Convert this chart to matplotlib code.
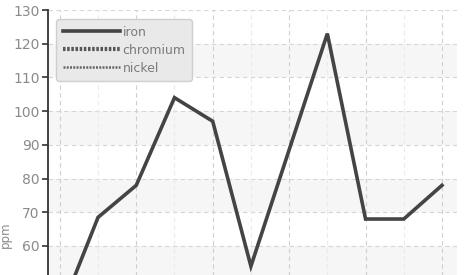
import matplotlib
matplotlib.use("Agg")
import matplotlib.pyplot as plt

# iron readings (ppm) per sample; the other series sit below the visible range
samples = list(range(11))
iron = [40, 68.5, 78, 104, 97, 54, 88.5, 123, 68, 68, 78]
chromium = []
nickel = []
yticks = [40, 50, 60, 70, 80, 90, 100, 110, 120, 130]

plt.rcParams['font.family'] = ['Liberation Sans Narrow', 'DejaVu Sans']

fig = plt.figure(figsize=(4.7, 2.75), dpi=100)
ax = fig.add_axes([0.1021, -0.1397, 0.870, 1.1033])

ax.set_xlim(-0.31, 10.39)
ax.set_ylim(40, 130)

# alternating background bands
for lo in range(50, 130, 20):
    ax.axhspan(lo, lo + 10, color='#f6f6f6', zorder=0, lw=0)

# grid lines
for y in yticks:
    ax.axhline(y, color='#d6d6d6', lw=0.8, ls=(0, (4, 3)), zorder=1)
for i in samples:
    c = '#cfcfcf' if i % 2 == 0 else '#ebebeb'
    ax.axvline(i, color=c, lw=0.8, ls=(0, (4, 3)), zorder=1)

ax.plot(samples, iron, color='#444444', lw=2.6, label='iron', zorder=3,
        solid_joinstyle='miter')
ax.plot(chromium, chromium, color='#555555', lw=3, ls=(0, (0.6, 0.4)),
        label='chromium')
ax.plot(nickel, nickel, color='#666666', lw=1.8, ls=(0, (0.8, 0.5)),
        label='nickel')

for s in ['top', 'right', 'bottom']:
    ax.spines[s].set_visible(False)
ax.spines['left'].set_color('#333333')
ax.spines['left'].set_linewidth(1.3)

ax.set_yticks(yticks)
ax.set_xticks([])
ax.tick_params(axis='y', direction='out', length=4, width=1.2, color='#333333',
               labelcolor='#8a8a8a', labelsize=10, pad=2)

ax.set_ylabel('ppm', color='#8a8a8a', fontsize=8.5)
ax.yaxis.set_label_coords(-0.088, 0.258)

leg = ax.legend(loc='upper left', bbox_to_anchor=(0.005, 0.99), frameon=True,
                fancybox=True, shadow=False, handlelength=4.6,
                handletextpad=0.2, labelspacing=0.4, borderpad=0.5,
                fontsize=9, framealpha=1, facecolor='#e9e9e9',
                edgecolor='#cfcfcf')
for t in leg.get_texts():
    t.set_color('#7a7a7a')

fig.savefig('out.png', dpi=100)
